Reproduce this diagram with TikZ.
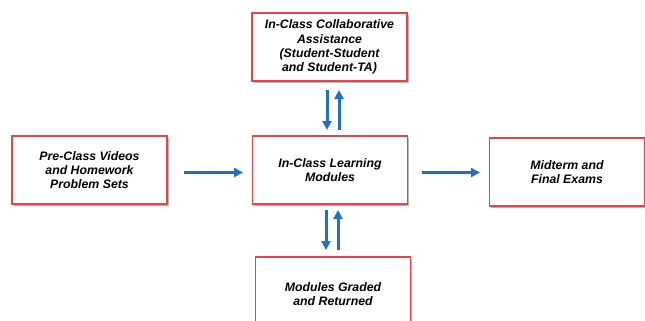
\documentclass[tikz,border=0pt]{standalone}
\usepackage{fontspec}
\setmainfont{Liberation Sans}
\usetikzlibrary{arrows.meta,shadows}
\definecolor{boxred}{RGB}{238,64,72}
\definecolor{arrblue}{RGB}{32,112,196}
\tikzset{
  box/.style={draw=boxred, line width=1.3pt, fill=white, minimum width=155pt, minimum height=68pt,
    align=center, inner sep=0pt, font=\fontsize{12.3pt}{14.3pt}\selectfont\bfseries\itshape,
    drop shadow={shadow xshift=1.8pt, shadow yshift=-1.8pt, fill=black!45, opacity=0.6}},
  flow/.style={draw=arrblue, line width=3pt, -{Triangle[length=9pt,width=9pt]}}
}
\begin{document}
\begin{tikzpicture}[x=1pt,y=-1pt]
\useasboundingbox (0,0) rectangle (645,321);
\clip (0,0) rectangle (645,321);
\node[box] (top) at (329.5,47) {In-Class Collaborative\\Assistance\\(Student-Student\\and Student-TA)};
\node[box] (left) at (89.5,170) {Pre-Class Videos\\and Homework\\Problem Sets};
\node[box] (mid) at (330,170) {In-Class Learning\\Modules};
\node[box] (right) at (567,172) {Midterm and\\Final Exams};
\node[box, minimum height=74pt] (bot) at (333,294) {Modules Graded\\and Returned};
\coordinate (l1) at (184,172.5); \coordinate (l2) at (243,172.5);
\coordinate (r1) at (422,172.5); \coordinate (r2) at (480,172.5);
\draw[flow] (l1) -- (l2);
\draw[flow] (r1) -- (r2);
\coordinate (td1) at (327,90); \coordinate (td2) at (327,130);
\coordinate (tu1) at (339,130); \coordinate (tu2) at (339,90);
\draw[flow] (td1) -- (td2);
\draw[flow] (tu1) -- (tu2);
\coordinate (bd1) at (326,210); \coordinate (bd2) at (326,250);
\coordinate (bu1) at (338,250); \coordinate (bu2) at (338,210);
\draw[flow] (bd1) -- (bd2);
\draw[flow] (bu1) -- (bu2);
\end{tikzpicture}
\end{document}
